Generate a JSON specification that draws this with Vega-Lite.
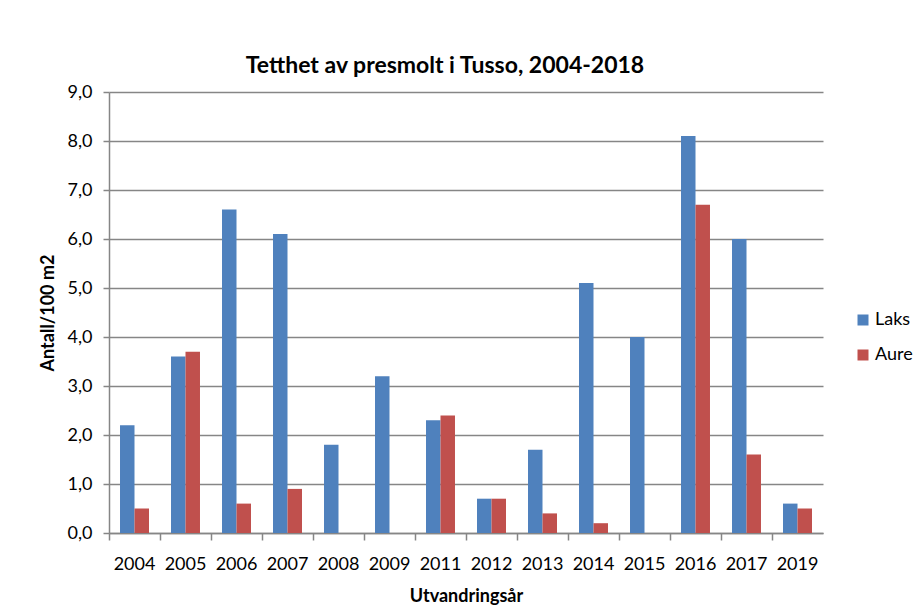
{
  "$schema": "https://vega.github.io/schema/vega-lite/v6.json",
  "width": 714,
  "height": 441,
  "autosize": {"type": "none"},
  "padding": {"left": 109, "top": 92, "right": 98, "bottom": 72},
  "background": "white",
  "title": {
    "text": "Tetthet av presmolt i Tusso, 2004-2018",
    "font": "Lato",
    "fontSize": 23,
    "fontWeight": "bold",
    "color": "#000000",
    "anchor": "middle",
    "dx": -21,
    "offset": 5
  },
  "data": {
    "values": [
      {"year": "2004", "species": "Laks", "value": 2.2},
      {"year": "2004", "species": "Aure", "value": 0.5},
      {"year": "2005", "species": "Laks", "value": 3.6},
      {"year": "2005", "species": "Aure", "value": 3.7},
      {"year": "2006", "species": "Laks", "value": 6.6},
      {"year": "2006", "species": "Aure", "value": 0.6},
      {"year": "2007", "species": "Laks", "value": 6.1},
      {"year": "2007", "species": "Aure", "value": 0.9},
      {"year": "2008", "species": "Laks", "value": 1.8},
      {"year": "2008", "species": "Aure", "value": 0},
      {"year": "2009", "species": "Laks", "value": 3.2},
      {"year": "2009", "species": "Aure", "value": 0},
      {"year": "2011", "species": "Laks", "value": 2.3},
      {"year": "2011", "species": "Aure", "value": 2.4},
      {"year": "2012", "species": "Laks", "value": 0.7},
      {"year": "2012", "species": "Aure", "value": 0.7},
      {"year": "2013", "species": "Laks", "value": 1.7},
      {"year": "2013", "species": "Aure", "value": 0.4},
      {"year": "2014", "species": "Laks", "value": 5.1},
      {"year": "2014", "species": "Aure", "value": 0.2},
      {"year": "2015", "species": "Laks", "value": 4.0},
      {"year": "2015", "species": "Aure", "value": 0},
      {"year": "2016", "species": "Laks", "value": 8.1},
      {"year": "2016", "species": "Aure", "value": 6.7},
      {"year": "2017", "species": "Laks", "value": 6.0},
      {"year": "2017", "species": "Aure", "value": 1.6},
      {"year": "2019", "species": "Laks", "value": 0.6},
      {"year": "2019", "species": "Aure", "value": 0.5}
    ]
  },
  "mark": {"type": "bar"},
  "encoding": {
    "x": {
      "field": "year",
      "type": "nominal",
      "sort": null,
      "scale": {"paddingInner": 0, "paddingOuter": 0},
      "axis": {
        "title": "Utvandringsår",
        "titleFont": "Lato",
        "titleFontSize": 18,
        "titleFontWeight": "bold",
        "titleColor": "#000000",
        "titlePadding": 14,
        "labelAngle": 0,
        "labelFont": "Lato",
        "labelFontSize": 18,
        "labelColor": "#000000",
        "labelPadding": 15,
        "bandPosition": 0,
        "tickSize": 7,
        "tickColor": "#868686",
        "domainColor": "#868686",
        "domainWidth": 1.5,
        "tickWidth": 1.5,
        "grid": false
      }
    },
    "xOffset": {
      "field": "species",
      "type": "nominal",
      "sort": ["Laks", "Aure"],
      "scale": {"paddingInner": 0, "paddingOuter": 0.76}
    },
    "y": {
      "field": "value",
      "type": "quantitative",
      "scale": {"domain": [0, 9], "nice": false},
      "axis": {
        "title": "Antall/100 m2",
        "titleFont": "Lato",
        "titleFontSize": 18,
        "titleFontWeight": "bold",
        "titleColor": "#000000",
        "titlePadding": 10,
        "values": [0, 1, 2, 3, 4, 5, 6, 7, 8, 9],
        "labelExpr": "replace(format(datum.value, '.1f'), '.', ',')",
        "labelFont": "Lato",
        "labelFontSize": 18,
        "labelColor": "#000000",
        "labelPadding": 11,
        "tickSize": 6,
        "tickColor": "#868686",
        "tickWidth": 1.5,
        "domainColor": "#868686",
        "domainWidth": 1.5,
        "grid": true,
        "gridColor": "#868686",
        "gridWidth": 1.5
      }
    },
    "color": {
      "field": "species",
      "type": "nominal",
      "sort": ["Laks", "Aure"],
      "scale": {"domain": ["Laks", "Aure"], "range": ["#4F81BD", "#C0504D"]},
      "legend": {
        "title": null,
        "orient": "none",
        "legendX": 745,
        "legendY": 219,
        "symbolType": "square",
        "symbolSize": 121,
        "symbolStrokeWidth": 0,
        "labelFont": "Lato",
        "labelFontSize": 18,
        "labelColor": "#000000",
        "labelOffset": 3,
        "rowPadding": 17
      }
    }
  },
  "config": {
    "view": {"stroke": null},
    "axis": {"labelFlush": false}
  }
}
